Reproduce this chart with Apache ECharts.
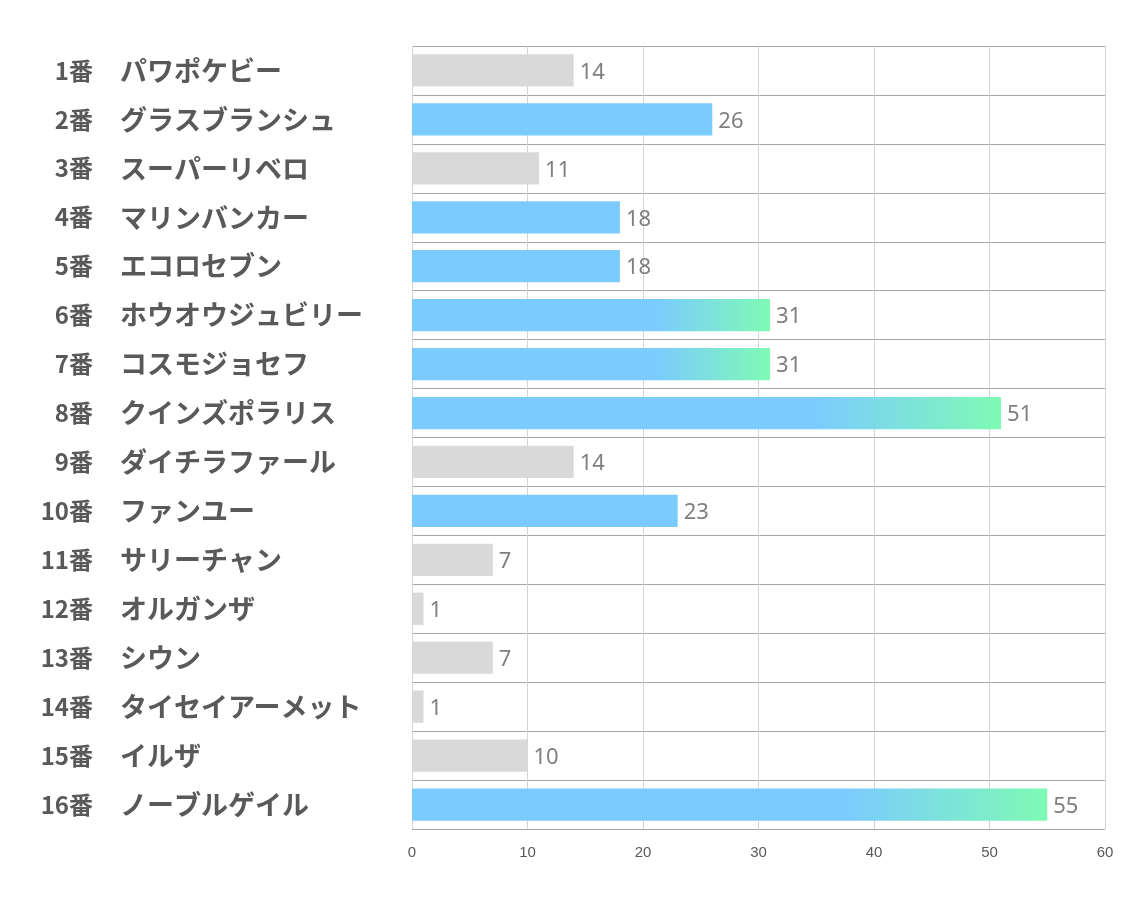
<!DOCTYPE html>
<html><head><meta charset="utf-8">
<script src="https://cdn.jsdelivr.net/npm/echarts@6/dist/echarts.min.js"></script>
<style>html,body{margin:0;padding:0;background:#fff}#c{width:1134px;height:907px}</style>
</head><body><div id="c"></div>
<script>
const numbers = ['1番','2番','3番','4番','5番','6番','7番','8番','9番','10番','11番','12番','13番','14番','15番','16番'];
const names = ['パワポケビー','グラスブランシュ','スーパーリベロ','マリンバンカー','エコロセブン','ホウオウジュビリー','コスモジョセフ','クインズポラリス','ダイチラファール','ファンユー','サリーチャン','オルガンザ','シウン','タイセイアーメット','イルザ','ノーブルゲイル'];
const values = [14,26,11,18,18,31,31,51,14,23,7,1,7,1,10,55];
const kinds = ['grey','blue','grey','blue','blue','grad','grad','grad','grey','blue','grey','grey','grey','grey','grey','grad'];
const xTicks = [0,10,20,30,40,50,60];

const BLUE='#7bcbff', GREEN='#7ffab5', GREY='#d9d9d9';
function colorFor(k){
  if(k==='grey') return GREY;
  if(k==='blue') return BLUE;
  return new echarts.graphic.LinearGradient(0,0,1,0,[{offset:0,color:BLUE},{offset:0.68,color:BLUE},{offset:1,color:GREEN}]);
}
const labelFont = {fontWeight:'bold',color:'#595959',fontFamily:'Noto Sans CJK JP'};
const chart = echarts.init(document.getElementById('c'));
chart.setOption({
  animation:false,
  grid:{left:412,right:29,top:46,bottom:78,containLabel:false},
  xAxis:{type:'value',min:xTicks[0],max:xTicks[xTicks.length-1],interval:10,
    axisLine:{show:false},axisTick:{show:false},
    axisLabel:{color:'#595959',fontSize:15,margin:16,fontFamily:'Liberation Sans Narrow, sans-serif'},
    splitLine:{show:true,lineStyle:{color:'#d4d4d4',width:1}}},
  yAxis:[
    {type:'category',inverse:true,data:numbers,position:'left',
      axisLine:{show:false},axisTick:{show:false},
      splitLine:{show:true,lineStyle:{color:'#a6a6a6',width:1}},
      axisLabel:Object.assign({margin:319,align:'right',fontSize:24},labelFont)},
    {type:'category',inverse:true,data:names,position:'left',
      axisLine:{show:false},axisTick:{show:false},splitLine:{show:false},
      axisLabel:Object.assign({margin:292,align:'left',fontSize:27},labelFont)}
  ],
  series:[{type:'bar',barWidth:'66%',yAxisIndex:0,
    data:values.map((v,i)=>({value:v,itemStyle:{color:colorFor(kinds[i])}})),
    label:{show:true,position:'right',distance:6,color:'#7f7f7f',fontSize:22,fontFamily:'Noto Sans, sans-serif',offset:[0,2]}}]
});
</script></body></html>
